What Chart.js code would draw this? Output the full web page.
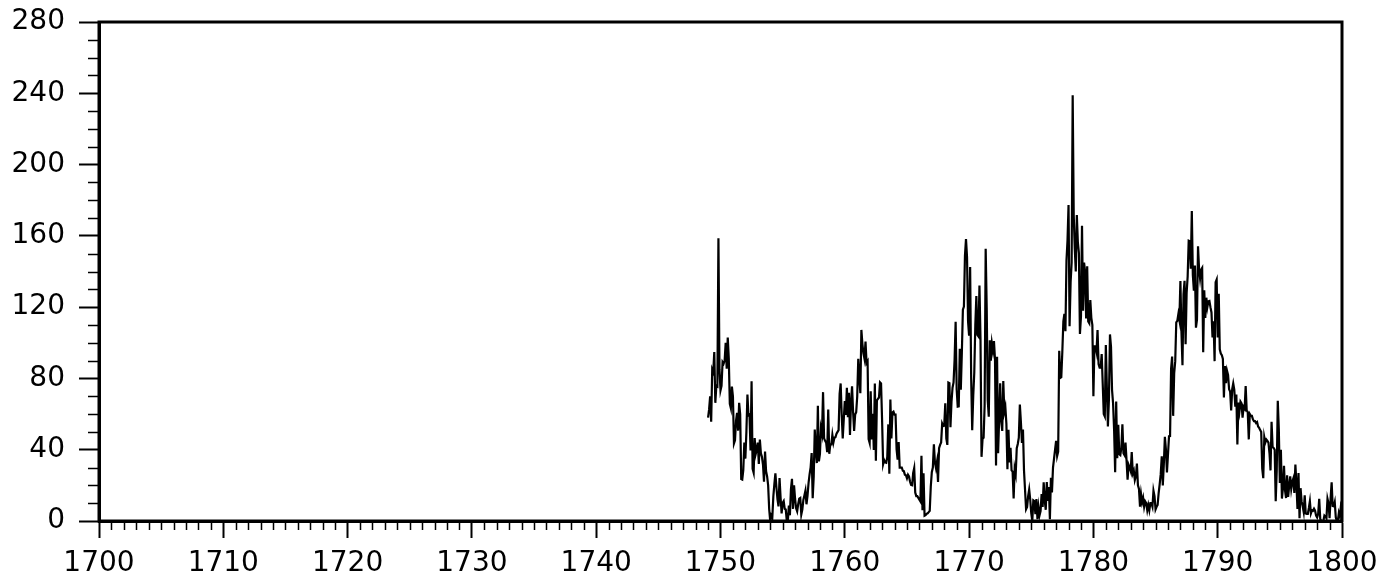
<!DOCTYPE html>
<html>
<head>
<meta charset="utf-8">
<title>Monthly sunspot numbers 1749-1800</title>
<script src="https://cdn.jsdelivr.net/npm/chart.js@4/dist/chart.umd.min.js"></script>
<style>
  html, body { margin: 0; padding: 0; background: #fff; }
  canvas { display: block; }
</style>
</head>
<body>
<canvas id="chart" width="1395" height="579"></canvas>
<script>
// monthly sunspot numbers, Jan..Dec
var startYear = 1749;
var ssn1749 = [
  58.0, 62.6, 70.0, 55.7, 85.0, 83.5, 94.8, 66.3, 75.9, 75.5, 158.6, 85.2,
  73.3, 75.9, 89.2, 88.3, 90.0, 100.0, 85.4, 103.0, 91.2, 65.7, 63.3, 75.4,
  70.0, 43.5, 45.3, 56.4, 60.7, 50.7, 66.3, 59.8, 23.5, 23.2, 28.5, 44.0,
  35.0, 50.0, 71.0, 59.3, 59.7, 39.6, 78.4, 29.3, 27.1, 46.6, 37.6, 40.0,
  44.0, 32.0, 45.7, 38.0, 36.0, 31.7, 22.0, 39.0, 28.0, 25.0, 20.0, 6.7,
  0.0, 3.0, 1.7, 13.7, 20.7, 26.7, 18.8, 12.3, 8.2, 24.1, 13.2, 4.2,
  10.2, 11.2, 6.8, 6.5, 0.0, 0.0, 8.6, 3.2, 17.8, 23.7, 6.8, 20.0,
  12.5, 7.1, 5.4, 9.4, 12.5, 12.9, 3.6, 6.4, 11.8, 14.3, 17.0, 9.4,
  14.1, 21.2, 26.2, 30.0, 38.1, 12.8, 25.0, 51.3, 39.7, 32.5, 64.7, 33.5,
  37.6, 52.0, 49.0, 72.3, 46.4, 45.0, 44.0, 38.7, 62.5, 37.7, 43.0, 43.0,
  48.3, 44.0, 46.8, 47.0, 49.0, 50.0, 51.0, 71.3, 77.2, 59.7, 46.3, 57.0
];
var ssn1760 = [
  67.3, 59.5, 74.7, 58.3, 72.0, 48.3, 66.0, 75.6, 61.3, 50.6, 59.7, 61.0,
  70.0, 91.0, 80.7, 71.7, 107.2, 99.3, 94.1, 91.1, 100.7, 88.7, 89.7, 46.0,
  43.8, 72.8, 45.7, 60.2, 39.9, 77.1, 33.8, 67.7, 68.5, 69.3, 77.8, 77.2,
  56.5, 31.9, 34.2, 32.9, 32.7, 35.8, 54.2, 26.5, 68.1, 46.3, 60.9, 61.4,
  59.7, 59.7, 40.2, 34.4, 44.3, 30.0, 30.0, 30.0, 28.2, 28.0, 26.0, 25.7,
  24.0, 26.0, 25.0, 22.0, 20.2, 20.0, 27.0, 29.7, 16.0, 14.0, 14.0, 13.0,
  12.0, 11.0, 36.6, 6.0, 26.8, 3.0, 3.3, 4.0, 4.3, 5.0, 5.7, 19.2,
  27.4, 30.0, 43.0, 32.9, 29.8, 33.3, 21.9, 40.8, 42.7, 44.1, 54.7, 53.3,
  53.5, 66.1, 46.3, 42.7, 77.7, 77.4, 52.6, 66.8, 74.8, 77.8, 90.6, 111.8,
  73.9, 64.2, 64.3, 96.7, 73.6, 94.4, 118.6, 120.3, 148.8, 158.2, 148.1, 112.0
];
var ssn1770 = [
  104.0, 142.5, 80.1, 51.0, 70.1, 83.3, 109.8, 126.3, 104.4, 103.6, 132.2, 102.3,
  36.0, 46.2, 46.7, 64.9, 152.7, 119.5, 67.7, 58.5, 101.4, 90.0, 99.7, 95.7,
  100.9, 90.8, 31.1, 92.2, 38.0, 57.0, 77.3, 56.2, 50.5, 78.6, 61.3, 64.0,
  54.6, 29.0, 51.2, 32.9, 41.1, 28.4, 27.7, 12.7, 29.3, 26.3, 40.9, 43.2,
  46.8, 65.4, 55.7, 43.8, 51.3, 28.5, 17.5, 6.6, 7.9, 14.0, 17.7, 12.2,
  4.4, 0.0, 11.6, 11.2, 3.9, 12.3, 1.0, 7.9, 3.2, 5.6, 15.1, 7.9,
  21.7, 11.6, 6.3, 21.8, 11.2, 19.0, 1.0, 24.2, 16.0, 30.0, 35.0, 40.0,
  45.0, 36.5, 39.0, 95.5, 80.3, 80.7, 95.0, 112.0, 116.2, 106.5, 146.0, 157.3,
  177.3, 109.3, 134.0, 145.0, 238.9, 171.6, 153.0, 140.0, 171.7, 156.3, 150.3, 105.0,
  114.7, 165.7, 118.0, 145.0, 140.0, 113.7, 143.0, 112.0, 111.0, 124.0, 114.0, 110.0
];
var ssn1780 = [
  70.0, 98.0, 98.0, 95.0, 107.2, 88.0, 86.0, 86.0, 93.7, 77.0, 60.0, 58.7,
  98.7, 74.7, 53.0, 68.3, 104.7, 97.7, 73.5, 66.0, 51.0, 27.3, 67.0, 35.2,
  54.0, 37.5, 37.0, 41.0, 54.3, 38.0, 37.0, 44.0, 34.0, 23.2, 31.5, 30.0,
  28.0, 38.7, 26.7, 28.3, 23.0, 25.2, 32.2, 20.0, 18.0, 8.0, 15.0, 10.5,
  13.0, 8.0, 11.0, 10.0, 6.0, 9.0, 6.0, 10.0, 10.0, 8.0, 17.0, 14.0,
  6.5, 8.0, 9.0, 15.7, 20.7, 26.3, 36.3, 20.0, 32.0, 47.2, 40.2, 27.3,
  37.2, 47.6, 47.7, 85.4, 92.3, 59.0, 83.0, 89.7, 111.5, 112.3, 116.0, 112.7,
  134.7, 106.0, 87.4, 127.2, 134.8, 99.2, 128.0, 137.2, 157.3, 157.0, 141.5, 174.0,
  138.0, 129.2, 143.3, 108.5, 113.0, 154.2, 141.5, 136.0, 141.0, 142.0, 94.7, 129.5,
  114.0, 125.3, 120.0, 123.3, 123.5, 120.0, 117.0, 103.0, 112.0, 89.7, 134.0, 135.5
];
var ssn1790 = [
  103.0, 127.5, 96.3, 94.0, 93.0, 91.0, 69.3, 87.0, 77.3, 84.3, 82.0, 74.0,
  72.7, 62.0, 74.0, 77.2, 73.7, 64.2, 71.0, 43.0, 66.5, 61.7, 67.0, 66.0,
  58.0, 64.0, 63.0, 75.7, 62.0, 61.0, 45.8, 60.0, 59.0, 59.0, 57.0, 56.0,
  56.0, 55.0, 55.5, 53.0, 52.3, 51.0, 50.0, 29.3, 24.0, 47.0, 44.0, 45.7,
  45.0, 44.0, 38.0, 28.4, 55.7, 41.5, 41.0, 40.0, 11.1, 28.5, 67.4, 51.4,
  21.4, 39.9, 12.6, 18.6, 31.0, 17.1, 12.9, 25.7, 13.5, 19.5, 25.0, 18.0,
  22.0, 23.8, 15.7, 31.7, 21.0, 6.7, 26.9, 1.5, 18.4, 11.0, 8.4, 5.1,
  14.4, 4.2, 4.0, 4.0, 7.3, 11.1, 4.3, 6.0, 5.7, 6.9, 5.8, 3.0,
  2.0, 4.0, 12.4, 1.1, 0.0, 0.0, 0.0, 3.0, 2.4, 1.5, 12.5, 9.9,
  1.6, 12.6, 21.7, 8.4, 8.2, 10.6, 2.1, 0.0, 0.0, 4.6, 2.7, 8.6,
  6.9
];
var xMin = 1700, xMax = 1800, xStep = 10;
var yMin = 0, yMax = 280, yStep = 40;

var monthly = ssn1749.concat(ssn1760, ssn1770, ssn1780, ssn1790);
var points = monthly.map(function (v, i) { return { x: startYear + i / 12, y: v }; });

// box round the plot plus the small minor ticks on both axes
var frame = {
  id: 'frame',
  afterDraw: function (chart) {
    var ctx = chart.ctx, a = chart.chartArea, x = chart.scales.x, y = chart.scales.y;
    ctx.save();
    ctx.strokeStyle = '#000';
    ctx.lineWidth = 3;
    ctx.strokeRect(a.left, a.top, a.right - a.left, a.bottom - a.top);
    ctx.lineWidth = 1.5;
    ctx.beginPath();
    for (var v = xMin + 1; v < xMax; v++) {
      if (v % xStep === 0) continue;
      var px = Math.round(x.getPixelForValue(v)) + 0.5;
      ctx.moveTo(px, a.bottom);
      ctx.lineTo(px, a.bottom + 9);
    }
    for (var w = yMin + 10; w < yMax; w += 10) {
      if (w % yStep === 0) continue;
      var py = Math.round(y.getPixelForValue(w)) + 0.5;
      ctx.moveTo(a.left - 11, py);
      ctx.lineTo(a.left, py);
    }
    ctx.stroke();
    ctx.restore();
  }
};

var font = { family: '"DejaVu Sans", sans-serif', size: 28 };

new Chart(document.getElementById('chart'), {
  type: 'line',
  data: {
    datasets: [{
      data: points,
      borderColor: '#000',
      borderWidth: 2.2,
      pointRadius: 0,
      tension: 0,
      fill: false
    }]
  },
  options: {
    responsive: false,
    animation: false,
    layout: { padding: { top: 22, right: 53, left: 0, bottom: 0 } },
    plugins: { legend: { display: false }, tooltip: { enabled: false } },
    scales: {
      x: {
        type: 'linear',
        min: xMin,
        max: xMax,
        afterFit: function (s) { s.height = 58; s.paddingLeft = 0; s.paddingRight = 0; },
        border: { color: '#000', width: 3 },
        grid: { drawOnChartArea: false, color: '#000', tickLength: 17, tickWidth: 2 },
        ticks: {
          stepSize: xStep,
          color: '#000',
          font: font,
          padding: 9,
          maxRotation: 0,
          callback: function (v) { return String(v); }
        }
      },
      y: {
        min: yMin,
        max: yMax,
        afterFit: function (s) { s.width = 99; s.paddingTop = 0; s.paddingBottom = 0; },
        border: { color: '#000', width: 3 },
        grid: { drawOnChartArea: false, color: '#000', tickLength: 20, tickWidth: 2 },
        ticks: {
          stepSize: yStep,
          color: '#000',
          font: font,
          padding: 14,
          callback: function (v) { return String(v); }
        }
      }
    }
  },
  plugins: [frame]
});
</script>
</body>
</html>
